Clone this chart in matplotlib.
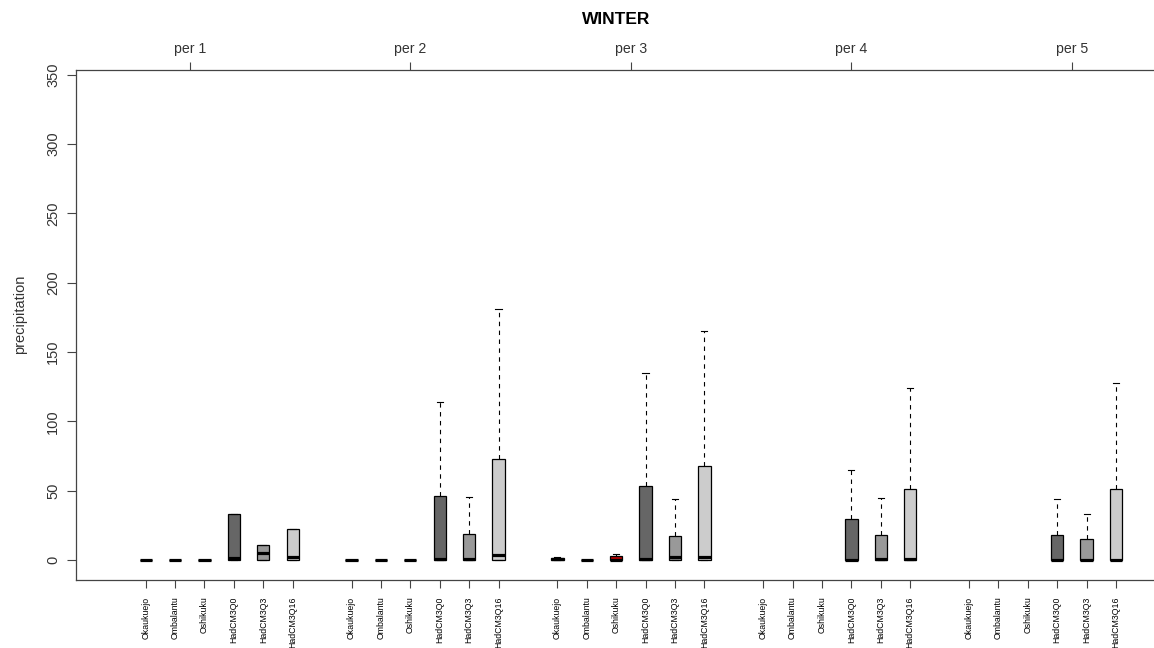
import numpy as np
import matplotlib
matplotlib.use("Agg")
import matplotlib.pyplot as plt

plt.rcParams['font.family'] = ['Liberation Sans', 'DejaVu Sans']

# ---- data ----
stations = ["Okaukuejo", "Ombalantu", "Oshikuku", "HadCM3Q0", "HadCM3Q3", "HadCM3Q16"]
periods = ["per 1", "per 2", "per 3", "per 4", "per 5"]
nan = np.nan

q1_per1 = [0, 0, 0, 0, 0, 0]
q1_per2 = [0, 0, 0, 0, 0, 0]
q1_per3 = [0, 0, 0, 0, 0, 0]
q1_per4 = [nan, nan, nan, 0, 0, 0]
q1_per5 = [nan, nan, nan, 0, 0, 0]

med_per1 = [0, 0, 0, 1.5, 5.0, 2.5]
med_per2 = [0, 0, 0, 0.8, 0.5, 3.6]
med_per3 = [0.5, 0, 0.3, 0.5, 2.0, 2.5]
med_per4 = [nan, nan, nan, 0.3, 1.0, 0.5]
med_per5 = [nan, nan, nan, 0.3, 0.3, 0.3]

q3_per1 = [0.3, 0.3, 0.3, 33.0, 10.6, 22.6]
q3_per2 = [0.3, 0.3, 0.3, 46.0, 18.5, 72.8]
q3_per3 = [1.5, 0.3, 3.0, 53.6, 17.5, 68.0]
q3_per4 = [nan, nan, nan, 29.3, 18.0, 51.0]
q3_per5 = [nan, nan, nan, 18.0, 15.1, 51.0]

whi_per1 = [0.3, 0.3, 0.3, 33.0, 10.6, 22.6]
whi_per2 = [0.3, 0.3, 0.3, 114.0, 45.7, 180.8]
whi_per3 = [2.4, 0.3, 4.5, 134.6, 43.8, 165.0]
whi_per4 = [nan, nan, nan, 64.9, 44.7, 124.0]
whi_per5 = [nan, nan, nan, 43.8, 33.2, 127.4]

q1_all = [q1_per1, q1_per2, q1_per3, q1_per4, q1_per5]
med_all = [med_per1, med_per2, med_per3, med_per4, med_per5]
q3_all = [q3_per1, q3_per2, q3_per3, q3_per4, q3_per5]
whi_all = [whi_per1, whi_per2, whi_per3, whi_per4, whi_per5]

fill_colors = ["white", "white", "#b40000", "#666666", "#999999", "#cccccc"]
per_tick_pos = [2.5, 10.0, 17.5, 25.0, 32.5]

# ---- figure ----
W, H = 1154, 648
fig = plt.figure(figsize=(W / 100, H / 100), dpi=100)
L, R, T, B = 76, 1156, 70, 580
ax = fig.add_axes([L / W, 1 - B / H, (R - L) / W, (B - T) / H])

stats, positions, colors = [], [], []
for g in range(len(periods)):
    for i in range(len(stations)):
        if np.isnan(q3_all[g][i]):
            continue
        stats.append(dict(med=med_all[g][i], q1=q1_all[g][i], q3=q3_all[g][i],
                          whislo=q1_all[g][i], whishi=whi_all[g][i], fliers=[]))
        positions.append(g * 7 + i + 1)
        colors.append(fill_colors[i])

bp = ax.bxp(stats, positions=positions, widths=0.42, patch_artist=True,
            showfliers=False, manage_ticks=False, capwidths=0.21,
            boxprops=dict(edgecolor="black", linewidth=0.9),
            medianprops=dict(color="black", linewidth=2.3, solid_capstyle="butt"),
            whiskerprops=dict(color="black", linewidth=0.8, linestyle=(0, (4, 4))),
            capprops=dict(color="black", linewidth=0.8))
for patch, c in zip(bp["boxes"], colors):
    patch.set_facecolor(c)

ax.set_xlim(-1.37, 35.36)
ax.set_ylim(-14.4, 353.4)

# spines
for s in ["left", "top", "bottom"]:
    ax.spines[s].set_color("#444444")
    ax.spines[s].set_linewidth(0.9)
ax.spines["right"].set_visible(False)

# bottom ticks
bottom_pos = [g * 7 + i + 1 for g in range(len(periods)) for i in range(len(stations))]
bottom_lab = [stations[i] for g in range(len(periods)) for i in range(len(stations))]
ax.set_xticks(bottom_pos)
ax.set_xticklabels(bottom_lab, rotation=90, fontsize=6.3, va="top", ha="center")
ax.tick_params(axis="x", direction="out", length=6, width=0.8, pad=6, color="#444444")

# y ticks
ax.set_yticks([0, 50, 100, 150, 200, 250, 300, 350])
ax.set_yticklabels(["0", "50", "100", "150", "200", "250", "300", "350"],
                   rotation=90, va="center", fontsize=10.5, color="#333333")
ax.tick_params(axis="y", direction="out", length=6.5, width=0.8, pad=5, color="#444444")

# top axis
top = ax.secondary_xaxis("top")
top.set_xticks(per_tick_pos)
top.set_xticklabels(periods, fontsize=10.2, color="#333333")
top.tick_params(direction="out", length=6, width=0.8, pad=4, color="#444444")
top.spines["top"].set_visible(False)

fig.text(616 / W, 1 - 20 / H, "WINTER", ha="center", va="center",
         fontsize=12.5, fontweight="bold")
fig.text(20 / W, 1 - 314 / H, "precipitation", ha="center", va="center",
         rotation=90, fontsize=10.5, color="#333333")

fig.savefig("out.png", dpi=100)
